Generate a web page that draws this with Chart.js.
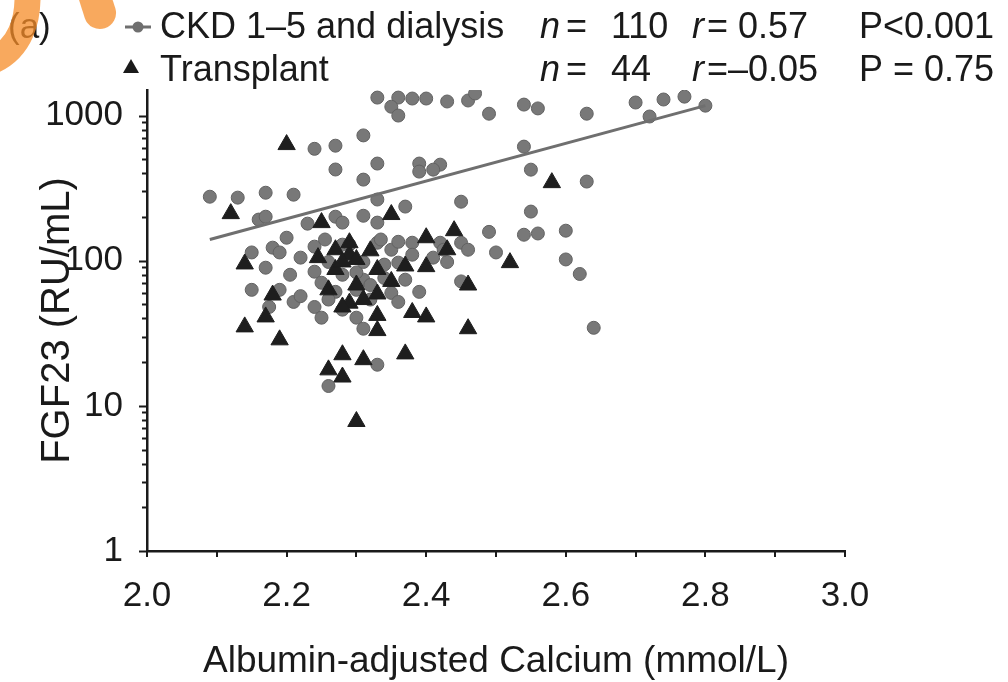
<!DOCTYPE html>
<html>
<head>
<meta charset="utf-8">
<script src="https://cdn.jsdelivr.net/npm/chart.js@4.4.0/dist/chart.umd.min.js"></script>
<style>
html, body { margin: 0; padding: 0; background: #fff; }
#wrap { position: relative; width: 1008px; height: 682px; }
</style>
</head>
<body>
<div id="wrap"><canvas id="fgfChart" width="1008" height="682"></canvas></div>
<script>
// CKD 1-5 and dialysis (grey circles)
var ckdCalcium = [2.33, 2.36, 2.35, 2.36, 2.38, 2.40, 2.43, 2.46, 2.47, 2.49, 2.54, 2.56, 2.63, 2.70, 2.74, 2.77, 2.72, 2.80,
    2.31, 2.24, 2.27, 2.27, 2.33, 2.31, 2.39, 2.42, 2.41, 2.39, 2.54, 2.55, 2.63,
    2.09, 2.13, 2.17, 2.21, 2.33, 2.37, 2.45, 2.55,
    2.16, 2.17, 2.23, 2.27, 2.28, 2.31, 2.33,
    2.49, 2.54, 2.56, 2.60, 2.45, 2.43, 2.50, 2.60, 2.62, 2.45, 2.64,
    2.15, 2.18, 2.19, 2.17, 2.24, 2.24, 2.33, 2.35, 2.36, 2.38, 2.42, 2.425, 2.36, 2.34, 2.31, 2.30, 2.25,
    2.19, 2.21, 2.22, 2.175, 2.24, 2.25, 2.35, 2.36, 2.31, 2.33, 2.26,
    2.28, 2.29, 2.26, 2.28, 2.31, 2.30, 2.27, 2.32, 2.34, 2.29, 2.255, 2.37, 2.38, 2.32, 2.28, 2.26,
    2.22, 2.205, 2.39, 2.41, 2.46, 2.335, 2.20, 2.15, 2.30];
var ckdFgf23 = [1330, 1330, 1150, 1000, 1310, 1310, 1250, 1270, 1420, 1030, 1190, 1120, 1030, 1230, 1290, 1350, 985, 1170,
    730, 590, 620, 425, 467, 362, 467, 459, 424, 411, 611, 424, 351,
    276, 272, 294, 285, 264, 236, 255, 218,
    192, 201, 180, 201, 183, 204, 183,
    158, 151, 154, 161, 133, 98, 114, 102, 81, 72, 34.5,
    114, 123, 114, 89.5, 125, 84, 133, 119, 135, 133, 133, 119, 97, 76, 74, 83, 70.5,
    63, 52, 57, 48, 48, 40.5, 60, 52, 34, 19.2, 13.7,
    129, 105, 98, 80, 98, 63, 61, 68, 94, 129, 140, 74, 110, 54, 46, 54,
    105, 80, 61, 105, 119, 140, 144, 63, 40.5];

// Transplant (black triangles)
var txCalcium = [2.20, 2.58, 2.12, 2.25, 2.35, 2.14, 2.27, 2.29, 2.30, 2.32, 2.33, 2.27, 2.40, 2.44, 2.43,
    2.37, 2.40, 2.52, 2.46, 2.26, 2.18, 2.29, 2.31, 2.33, 2.17, 2.14, 2.33, 2.38, 2.40, 2.33,
    2.19, 2.46, 2.28, 2.31, 2.26, 2.28, 2.37, 2.30, 2.28, 2.29, 2.28, 2.30, 2.245, 2.35];
var txFgf23 = [631, 345, 211, 183, 208, 95, 119, 110, 102, 117, 87, 87, 144, 161, 119,
    92, 91, 97, 68, 63, 58, 51, 54, 59, 41, 35, 42, 44, 41, 33,
    28.5, 34, 22.5, 20.8, 17.7, 15.8, 22.8, 7.8, 98, 133, 48, 68, 105, 72];

// regression line for CKD group
var fitCalcium = [2.09, 2.80];
var fitFgf23 = [140, 1170];

var xLabelValues = [2.0, 2.2, 2.4, 2.6, 2.8, 3.0];
var yLabelValues = [1, 10, 100, 1000];

var fontFamily = "'Liberation Sans', Arial, sans-serif";
var inkColor = '#1a1a1a';

function toPoints(xs, ys) {
    return xs.map(function (x, i) { return { x: x, y: ys[i] }; });
}

// axis tick marks: long at labelled values, short in between
var tickMarks = {
    id: 'tickMarks',
    afterDraw: function (chart) {
        var ctx = chart.ctx;
        var xs = chart.scales.x, ys = chart.scales.y;
        var x0 = xs.getPixelForValue(2.0), y0 = ys.getPixelForValue(1);
        ctx.save();
        ctx.strokeStyle = inkColor;
        ctx.lineWidth = 2;
        ctx.beginPath();
        for (var d = 1; d <= 1000; d *= 10) {
            for (var m = 1; m <= 9; m++) {
                var v = d * m;
                if (v > 1500) break;
                var py = Math.round(ys.getPixelForValue(v)) + 0.5;
                var len = (m === 1) ? 8 : 5;
                ctx.moveTo(x0, py);
                ctx.lineTo(x0 - len, py);
            }
        }
        for (var k = 0; k <= 10; k++) {
            var px = Math.round(xs.getPixelForValue(2 + k / 10));
            ctx.moveTo(px, y0);
            ctx.lineTo(px, y0 + 6);
        }
        ctx.stroke();
        ctx.restore();
    }
};

// legend block, statistics and the panel letter
var legendBlock = {
    id: 'legendBlock',
    afterDraw: function (chart) {
        var ctx = chart.ctx;
        var normal = '36px ' + fontFamily;
        var italic = 'italic 36px ' + fontFamily;
        ctx.save();
        ctx.fillStyle = inkColor;
        ctx.textBaseline = 'alphabetic';
        ctx.textAlign = 'left';

        ctx.font = '35px ' + fontFamily;
        ctx.fillText('(a)', 8, 38);

        // circle symbol with line
        ctx.strokeStyle = '#6f6f6f';
        ctx.lineWidth = 3;
        ctx.beginPath();
        ctx.moveTo(125, 27);
        ctx.lineTo(151, 27);
        ctx.stroke();
        ctx.fillStyle = '#6f6f6f';
        ctx.beginPath();
        ctx.arc(138, 27, 5.5, 0, Math.PI * 2);
        ctx.fill();

        // triangle symbol
        ctx.fillStyle = '#1a1a1a';
        ctx.beginPath();
        ctx.moveTo(131, 59);
        ctx.lineTo(139, 73);
        ctx.lineTo(123, 73);
        ctx.closePath();
        ctx.fill();

        ctx.fillStyle = inkColor;
        ctx.font = normal;
        ctx.fillText('CKD 1\u20135 and dialysis', 160, 38);
        ctx.fillText('Transplant', 160, 81);

        var rows = [
            { y: 38, n: '110', r: '= 0.57', p: 'P<0.001' },
            { y: 81, n: '44', r: '=\u20130.05', p: 'P = 0.75' }
        ];
        rows.forEach(function (row) {
            ctx.font = italic;
            ctx.fillText('n', 540, row.y);
            ctx.fillText('r', 692, row.y);
            ctx.font = normal;
            ctx.fillText('=', 566, row.y);
            ctx.fillText(row.n, 611, row.y);
            ctx.fillText(row.r, 707, row.y);
            ctx.fillText(row.p, 859, row.y);
        });

        // orange marks over the corner
        ctx.strokeStyle = 'rgba(246, 140, 40, 0.75)';
        ctx.lineCap = 'round';
        ctx.lineWidth = 26;
        ctx.beginPath();
        ctx.moveTo(27, -14);
        ctx.bezierCurveTo(30, 20, 20, 50, -10, 62);
        ctx.stroke();
        ctx.lineWidth = 32;
        ctx.beginPath();
        ctx.moveTo(92, -12);
        ctx.lineTo(100, 13);
        ctx.stroke();
        ctx.restore();
    }
};

var ctx = document.getElementById('fgfChart').getContext('2d');
var chartInstance = new Chart(ctx, {
    type: 'scatter',
    data: {
        datasets: [{
            label: 'Regression',
            data: toPoints(fitCalcium, fitFgf23),
            showLine: true,
            borderColor: '#6f6f6f',
            borderWidth: 3,
            pointRadius: 0,
            order: 0
        }, {
            label: 'CKD 1\u20135 and dialysis',
            data: toPoints(ckdCalcium, ckdFgf23),
            pointStyle: 'circle',
            pointRadius: 6.5,
            backgroundColor: '#787878',
            borderColor: '#626262',
            borderWidth: 1,
            order: 2
        }, {
            label: 'Transplant',
            data: toPoints(txCalcium, txFgf23),
            pointStyle: 'triangle',
            pointRadius: 10,
            backgroundColor: '#1e1e1e',
            borderColor: '#1e1e1e',
            borderWidth: 1,
            order: 1
        }]
    },
    options: {
        responsive: false,
        animation: false,
        devicePixelRatio: 1,
        layout: { padding: { top: 90, right: 163, left: 0, bottom: 0 } },
        plugins: {
            legend: { display: false },
            tooltip: { enabled: false }
        },
        scales: {
            x: {
                type: 'linear',
                min: 2.0,
                max: 3.0,
                afterBuildTicks: function (scale) {
                    scale.ticks = xLabelValues.map(function (v) { return { value: v }; });
                },
                afterFit: function (scale) { scale.height = 131; },
                grid: { display: false, drawTicks: false },
                border: { display: true, color: inkColor, width: 2.5 },
                ticks: {
                    padding: 24,
                    color: inkColor,
                    font: { family: fontFamily, size: 35 },
                    maxRotation: 0,
                    autoSkip: false,
                    callback: function (value) { return Number(value).toFixed(1); }
                },
                title: {
                    display: true,
                    text: 'Albumin-adjusted Calcium (mmol/L)',
                    color: inkColor,
                    font: { family: fontFamily, size: 37 },
                    padding: { top: 0, bottom: -2 }
                }
            },
            y: {
                type: 'logarithmic',
                min: 1,
                max: 1500,
                afterBuildTicks: function (scale) {
                    scale.ticks = yLabelValues.map(function (v) { return { value: v }; });
                },
                afterFit: function (scale) { scale.width = 147; },
                grid: { display: false, drawTicks: false },
                border: { display: true, color: inkColor, width: 2.5 },
                ticks: {
                    padding: 24,
                    color: inkColor,
                    font: { family: fontFamily, size: 35 },
                    autoSkip: false,
                    callback: function (value) { return String(value); }
                },
                title: {
                    display: true,
                    text: 'FGF23 (RU/mL)',
                    color: inkColor,
                    font: { family: fontFamily, size: 40 },
                    padding: { top: 34, bottom: 0 }
                }
            }
        }
    },
    plugins: [tickMarks, legendBlock]
});
</script>
</body>
</html>
